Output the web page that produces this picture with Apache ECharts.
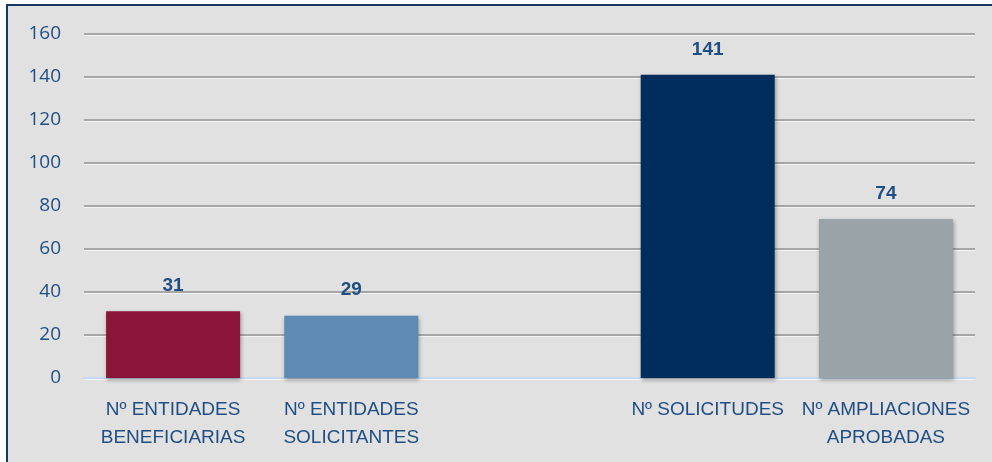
<!DOCTYPE html>
<html>
<head>
<meta charset="utf-8">
<script src="https://cdn.jsdelivr.net/npm/echarts@6/dist/echarts.min.js"></script>
<style>
  html, body { margin: 0; padding: 0; background: #ffffff; }
  #chart { width: 992px; height: 462px; }
</style>
</head>
<body>
<div id="chart"></div>
<script>
// categories (middle slot left empty as in the original)
const categories = ['Nº ENTIDADES\nBENEFICIARIAS', 'Nº ENTIDADES\nSOLICITANTES', '', 'Nº SOLICITUDES', 'Nº AMPLIACIONES\nAPROBADAS']
const values = [31, 29, null, 141, 74]
const barColors = ['#8a1538', '#5f8ab4', '#cccccc', '#002d5b', '#9aa3a7']
const yTicks = { min: 0, max: 160, interval: 20 }

const textBlue = '#1f4e84'
const chart = echarts.init(document.getElementById('chart'))

const option = {
  backgroundColor: '#ffffff',
  animation: false,
  graphic: [
    {
      type: 'rect',
      z: -10,
      shape: { x: 7, y: 5, width: 1000, height: 480 },
      style: { fill: '#e1e1e1', stroke: '#17375e', lineWidth: 2 }
    }
  ],
  grid: { left: 84, right: 17, top: 34, bottom: 84 },
  xAxis: {
    type: 'category',
    data: categories,
    axisTick: { show: false },
    axisLine: { lineStyle: { color: '#c6d9ee', width: 2 } },
    axisLabel: {
      color: textBlue,
      fontFamily: 'Liberation Sans Narrow, Arial Narrow, Liberation Sans, sans-serif',
      fontSize: 19,
      lineHeight: 28,
      margin: 18,
      interval: 0
    }
  },
  yAxis: {
    type: 'value',
    min: yTicks.min,
    max: yTicks.max,
    interval: yTicks.interval,
    axisLine: { show: false },
    axisTick: { show: false },
    axisLabel: {
      color: textBlue,
      fontFamily: 'Open Sans, Noto Sans, sans-serif',
      fontSize: 19,
      margin: 23
    },
    splitLine: {
      lineStyle: {
        color: '#a6a6a6',
        width: 2,
        shadowColor: 'rgba(255,255,255,0.6)',
        shadowOffsetY: 1
      }
    }
  },
  series: [
    {
      type: 'bar',
      barWidth: 134,
      data: values.map((v, i) => ({
        value: v == null ? '-' : v,
        itemStyle: { color: barColors[i] }
      })),
      itemStyle: {
        shadowBlur: 4,
        shadowColor: 'rgba(0,0,0,0.35)',
        shadowOffsetX: 1,
        shadowOffsetY: 2
      },
      label: {
        show: true,
        position: 'top',
        distance: 16,
        color: textBlue,
        fontWeight: 'bold',
        fontFamily: 'Liberation Sans Narrow, Arial Narrow, Liberation Sans, sans-serif',
        fontSize: 19
      }
    }
  ]
}

chart.setOption(option)
</script>
</body>
</html>
